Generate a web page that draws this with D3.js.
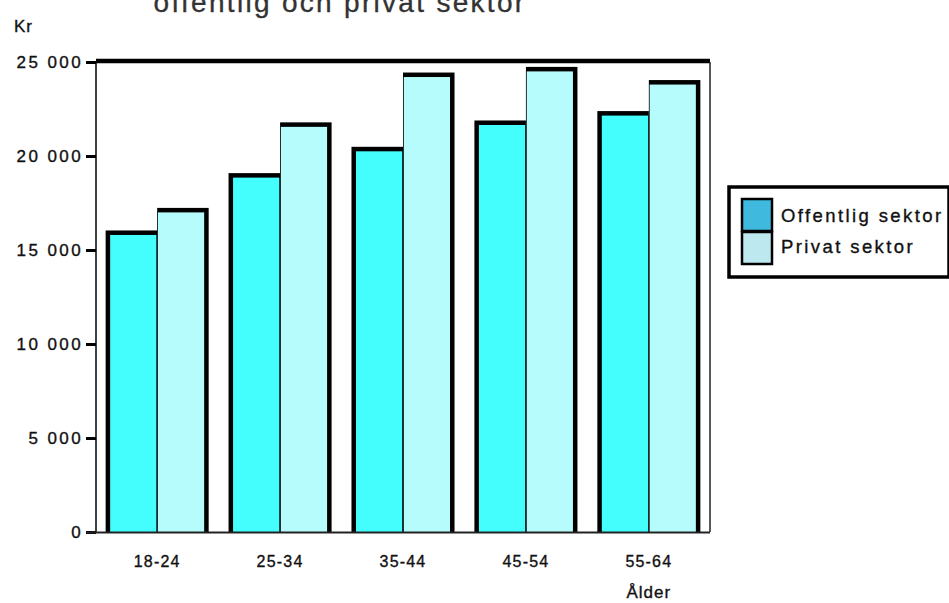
<!DOCTYPE html>
<html><head><meta charset="utf-8">
<script src="https://cdn.jsdelivr.net/npm/d3@7"></script>
<style>body{margin:0;background:#fff}svg{display:block}text{font-family:"Liberation Sans",Arial,sans-serif;fill:#111;stroke:#111;stroke-width:0.35px}</style>
</head><body>
<svg id="c" width="949" height="603"></svg>
<script>
const categories = ["18-24","25-34","35-44","45-54","55-64"];
const seriesNames = ["Offentlig sektor","Privat sektor"];
const offentlig = [15800, 18850, 20250, 21650, 22150];
const privat = [17000, 21550, 24200, 24500, 23800];
const yTicks = [0, 5000, 10000, 15000, 20000, 25000];
const tickLabels = ["0","5 000","10 000","15 000","20 000","25 000"];
const title = "offentlig och privat sektor";

const svg = d3.select("#c");
const m = {l:96, r:710, t:62, b:532};
const x = d3.scaleBand().domain(categories).range([m.l, m.r]).paddingInner(0.235).paddingOuter(0.115);
const xs = d3.scaleBand().domain([0,1]).range([0, x.bandwidth()]);
const y = d3.scaleLinear().domain([0, 25000]).range([m.b, m.t]);
const fills = ["#44fdfd","#b6fcfc"];

// title (partially cut off at top, as in the reference)
svg.append("text").attr("x",340).attr("y",12).attr("text-anchor","middle")
  .style("font-size","28px").style("letter-spacing","2.3px").style("fill","#333").style("stroke","#333").text(title);
svg.append("text").attr("x",14).attr("y",32).style("font-size","17px").style("letter-spacing","1px").text("Kr");

// frame
svg.append("line").attr("x1",m.l).attr("x2",m.r).attr("y1",m.t-1).attr("y2",m.t-1).attr("stroke","#000").attr("stroke-width",4.5);
svg.append("line").attr("x1",m.r).attr("x2",m.r).attr("y1",m.t).attr("y2",m.b).attr("stroke","#222").attr("stroke-width",1.5);
svg.append("line").attr("x1",m.l).attr("x2",m.l).attr("y1",m.t).attr("y2",m.b).attr("stroke","#000").attr("stroke-width",1.5);

// bars
const data = categories.map((c,i)=>({c, vals:[offentlig[i], privat[i]]}));
const g = svg.append("g");
data.forEach(d=>{
  d.vals.forEach((v,k)=>{
    const bx = x(d.c) + xs(k), bw = xs.bandwidth();
    const ext = 4.5;
    g.append("rect")
      .attr("x", bx - (k===0?ext:0)).attr("y", y(v)-ext)
      .attr("width", bw + ext).attr("height", y(0)-y(v)+ext)
      .attr("fill","#000");
    g.append("rect")
      .attr("x", bx + (k===0?0:0.8)).attr("y", y(v))
      .attr("width", bw - 0.8).attr("height", y(0)-y(v))
      .attr("fill", fills[k]);
  });
});

// y axis
const ya = svg.append("g").attr("transform",`translate(${m.l},0)`)
  .call(d3.axisLeft(y).tickValues(yTicks).tickFormat((d,i)=>tickLabels[i]).tickSize(10).tickPadding(3));
ya.select(".domain").remove();
ya.selectAll(".tick line").attr("stroke","#000").attr("stroke-width",3);
ya.selectAll(".tick text").style("font-size","17px").style("letter-spacing","2.4px")
  .style("font-family","'Liberation Sans',Arial,sans-serif").attr("fill","#111");

// bottom axis line
svg.append("line").attr("x1",m.l-10).attr("x2",m.r).attr("y1",m.b+0.5).attr("y2",m.b+0.5).attr("stroke","#222").attr("stroke-width",1.8);

// x labels
const xa = svg.append("g").attr("transform",`translate(0,${m.b})`)
  .call(d3.axisBottom(x).tickSize(0).tickPadding(24));
xa.select(".domain").remove();
xa.selectAll(".tick text").style("font-size","16px").style("letter-spacing","1.2px")
  .style("font-family","'Liberation Sans',Arial,sans-serif").attr("fill","#111");
svg.append("text").attr("x", x("55-64")+x.bandwidth()/2).attr("y",598).attr("text-anchor","middle")
  .style("font-size","17px").style("letter-spacing","1px").text("Ålder");

// legend
const lg = svg.append("g");
lg.append("rect").attr("x",729).attr("y",187).attr("width",220).attr("height",90).attr("fill","#fff").attr("stroke","#000").attr("stroke-width",3.5);
const lcol = ["#3fb9dd","#bde8f0"];
seriesNames.forEach((s,i)=>{
  lg.append("rect").attr("x",742).attr("y",199+i*33).attr("width",30).attr("height",32)
    .attr("fill",lcol[i]).attr("stroke","#000").attr("stroke-width",2.5);
  lg.append("text").attr("x",781).attr("y",222+i*31).style("font-size","18.5px").style("letter-spacing","2.4px").text(s);
});
</script>
</body></html>
